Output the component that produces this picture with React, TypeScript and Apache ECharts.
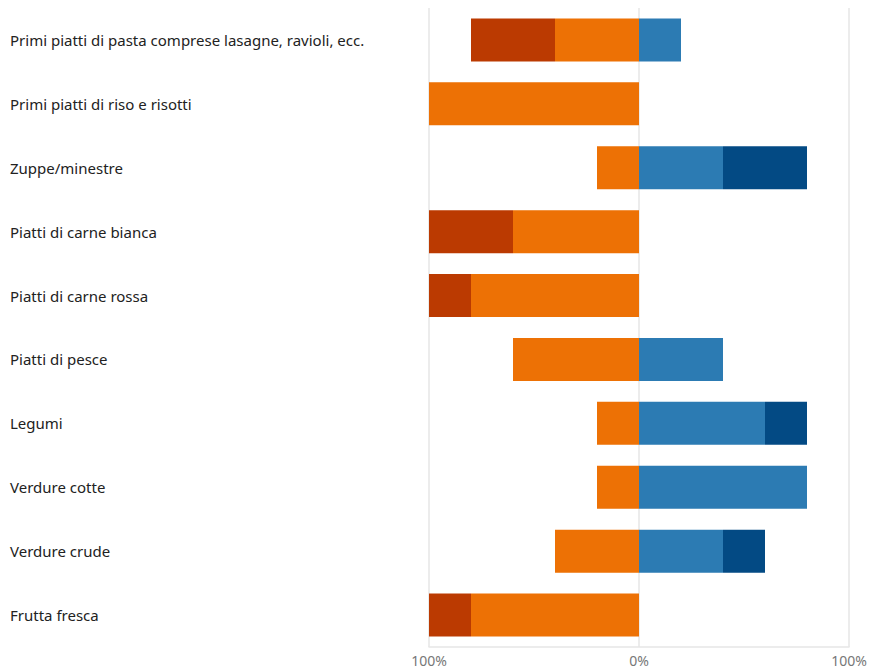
import React, { useEffect, useRef } from "react";
import * as echarts from "echarts";

const categories = [
  "Primi piatti di pasta comprese lasagne, ravioli, ecc.",
  "Primi piatti di riso e risotti",
  "Zuppe/minestre",
  "Piatti di carne bianca",
  "Piatti di carne rossa",
  "Piatti di pesce",
  "Legumi",
  "Verdure cotte",
  "Verdure crude",
  "Frutta fresca",
];

// percentages (left side shown as negative)
const orangeVals = [40, 100, 20, 60, 80, 60, 20, 20, 40, 80];
const darkRedVals = [40, 0, 0, 40, 20, 0, 0, 0, 0, 20];
const blueVals = [20, 0, 40, 0, 0, 40, 60, 80, 40, 0];
const darkBlueVals = [0, 0, 40, 0, 0, 0, 20, 0, 20, 0];

const xTicks = [-100, 0, 100];

export default function App() {
  const ref = useRef<HTMLDivElement>(null);
  useEffect(() => {
    if (!ref.current) return;
    document.body.style.margin = "0";
    const chart = echarts.init(ref.current, undefined, { renderer: "svg" });
    const font = "'Noto Sans', 'Open Sans', sans-serif";
    const mk = (name: string, vals: number[], color: string, neg: boolean) => ({
      name,
      type: "bar",
      stack: "total",
      barWidth: 43,
      data: vals.map((v) => (neg ? -v : v)),
      itemStyle: { color },
      emphasis: { disabled: true },
    });
    chart.setOption({
      animation: false,
      grid: { left: 429, right: 23, top: 8, bottom: 24, containLabel: false },
      xAxis: {
        type: "value",
        min: -100,
        max: 100,
        interval: 100,
        axisLine: { show: true, lineStyle: { color: "#e6e6e6", width: 1.5 } },
        axisTick: { show: false },
        splitLine: { show: true, lineStyle: { color: "#e6e6e6", width: 1.5 } },
        axisLabel: {
          color: "#777",
          fontSize: 14,
          fontFamily: font,
          margin: 6,
          formatter: (v: number) => (xTicks.includes(v) ? Math.abs(v) + "%" : ""),
        },
      },
      yAxis: {
        type: "category",
        inverse: true,
        data: categories,
        axisLine: { show: false },
        axisTick: { show: false },
        axisLabel: {
          align: "left",
          margin: 419,
          color: "#222",
          fontSize: 15,
          fontFamily: font,
        },
      },
      series: [
        mk("orange", orangeVals, "#ED7105", true),
        mk("darkred", darkRedVals, "#BB3A01", true),
        mk("blue", blueVals, "#2C7BB3", false),
        mk("darkblue", darkBlueVals, "#034A84", false),
      ],
    });
    return () => chart.dispose();
  }, []);
  return <div ref={ref} style={{ width: 872, height: 671 }} />;
}
